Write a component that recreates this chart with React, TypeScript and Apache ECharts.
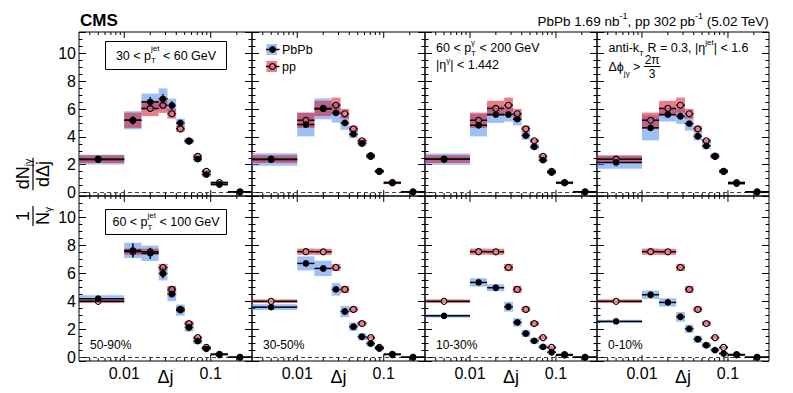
import React, { useEffect, useRef } from 'react';
import * as echarts from 'echarts';

const FONT = '"Liberation Sans", Arial, Helvetica, sans-serif';

// ---------- data ----------
const centralities = ['50-90%', '30-50%', '10-30%', '0-10%'];
const binLow = [0, 0.01, 0.0158, 0.025, 0.0316, 0.0398, 0.05, 0.063, 0.079, 0.1, 0.158];
const binHigh = [0.01, 0.0158, 0.025, 0.0316, 0.0398, 0.05, 0.063, 0.079, 0.1, 0.158, 0.3];
const binCenter = [0.005, 0.0126, 0.02, 0.028, 0.0355, 0.0446, 0.056, 0.0707, 0.089, 0.126, 0.218];

const xTickMajor = [0.01, 0.1];
const xTickMinor = [0.004, 0.005, 0.006, 0.007, 0.008, 0.009, 0.02, 0.03, 0.04, 0.05, 0.06, 0.07, 0.08, 0.09, 0.2];
const yTickLabels = ['0', '2', '4', '6', '8', '10'];

// row 1 : 30 < pT jet < 60 GeV
const ppLow = [2.4, 5.2, 6.05, 6.28, 5.67, 4.58, 3.72, 2.6, 1.52, 0.71, 0.05];
const ppLowSys = [0.28, 0.55, 0.55, 0.55, 0.35, 0.22, 0.15, 0.15, 0.12, 0.1, 0];
const ppLowStat = [0.05, 0.12, 0.1, 0.1, 0.08, 0.07, 0.06, 0.05, 0.04, 0.03, 0.01];

const pbpbLow5090 = [2.37, 5.2, 6.52, 6.74, 6.26, 5.01, 3.69, 2.4, 1.29, 0.58, 0.05];
const pbpbLow5090Sys = [0.35, 0.65, 0.6, 0.75, 0.5, 0.3, 0.2, 0.2, 0.15, 0.12, 0];
const pbpbLow5090Stat = [0.1, 0.3, 0.35, 0.35, 0.3, 0.2, 0.12, 0.1, 0.1, 0.06, 0.02];
const pbpbLow3050 = [2.37, 4.89, 6.02, 5.73, 5.01, 4.2, 3.53, 2.66, 1.53, 0.7, 0.05];
const pbpbLow3050Sys = [0.45, 0.85, 0.75, 0.7, 0.5, 0.3, 0.2, 0.15, 0.12, 0.1, 0];
const pbpbLow3050Stat = [0.08, 0.22, 0.18, 0.18, 0.16, 0.12, 0.1, 0.08, 0.06, 0.04, 0.02];
const pbpbLow1030 = [2.4, 4.84, 5.61, 5.61, 5.28, 4.1, 3.29, 2.33, 1.44, 0.7, 0.05];
const pbpbLow1030Sys = [0.4, 0.8, 0.6, 0.5, 0.45, 0.3, 0.2, 0.15, 0.12, 0.1, 0];
const pbpbLow1030Stat = [0.07, 0.18, 0.14, 0.14, 0.12, 0.1, 0.08, 0.07, 0.05, 0.04, 0.02];
const pbpbLow010 = [2.16, 4.65, 5.61, 5.49, 4.96, 4.05, 3.36, 2.64, 1.53, 0.65, 0.05];
const pbpbLow010Sys = [0.45, 0.9, 0.5, 0.55, 0.5, 0.3, 0.25, 0.2, 0.15, 0.1, 0];
const pbpbLow010Stat = [0.06, 0.16, 0.12, 0.12, 0.1, 0.09, 0.07, 0.06, 0.05, 0.03, 0.02];

// row 2 : 60 < pT jet < 100 GeV
const ppHigh = [4.02, 7.57, 7.56, 6.44, 4.87, 3.44, 2.43, 1.42, 0.72, 0.21, 0.02];
const ppHighSys = [0.12, 0.22, 0.22, 0.25, 0.25, 0.2, 0.18, 0.12, 0.1, 0.05, 0];
const ppHighStat = [0.05, 0.12, 0.1, 0.1, 0.08, 0.07, 0.06, 0.05, 0.04, 0.02, 0.01];

const pbpbHigh5090 = [4.2, 7.66, 7.45, 6.01, 4.53, 3.39, 2.15, 1.17, 0.62, 0.24, 0.02];
const pbpbHigh5090Sys = [0.25, 0.55, 0.55, 0.5, 0.5, 0.4, 0.3, 0.2, 0.12, 0.06, 0];
const pbpbHigh5090Stat = [0.15, 0.5, 0.4, 0.35, 0.25, 0.2, 0.12, 0.1, 0.06, 0.04, 0.02];
const pbpbHigh3050 = [3.6, 6.73, 6.37, 4.87, 3.29, 2.2, 1.48, 1.0, 0.64, 0.24, 0.02];
const pbpbHigh3050Sys = [0.2, 0.5, 0.55, 0.45, 0.4, 0.3, 0.25, 0.2, 0.12, 0.06, 0];
const pbpbHigh3050Stat = [0.1, 0.25, 0.2, 0.15, 0.12, 0.1, 0.08, 0.06, 0.05, 0.03, 0.02];
const pbpbHigh1030 = [2.98, 5.37, 4.99, 3.63, 2.51, 1.72, 1.19, 0.76, 0.38, 0.17, 0.02];
const pbpbHigh1030Sys = [0.12, 0.3, 0.25, 0.35, 0.3, 0.25, 0.2, 0.15, 0.1, 0.08, 0];
const pbpbHigh1030Stat = [0.08, 0.18, 0.15, 0.12, 0.1, 0.08, 0.06, 0.05, 0.04, 0.03, 0.02];
const pbpbHigh010 = [2.58, 4.49, 3.94, 2.91, 2.05, 1.31, 0.88, 0.53, 0.29, 0.19, 0.02];
const pbpbHigh010Sys = [0.12, 0.3, 0.3, 0.35, 0.3, 0.25, 0.2, 0.15, 0.1, 0.08, 0];
const pbpbHigh010Stat = [0.07, 0.15, 0.13, 0.1, 0.09, 0.07, 0.05, 0.04, 0.03, 0.03, 0.02];

const pbpbRows = [
  [
    [pbpbLow5090, pbpbLow5090Sys, pbpbLow5090Stat],
    [pbpbLow3050, pbpbLow3050Sys, pbpbLow3050Stat],
    [pbpbLow1030, pbpbLow1030Sys, pbpbLow1030Stat],
    [pbpbLow010, pbpbLow010Sys, pbpbLow010Stat],
  ],
  [
    [pbpbHigh5090, pbpbHigh5090Sys, pbpbHigh5090Stat],
    [pbpbHigh3050, pbpbHigh3050Sys, pbpbHigh3050Stat],
    [pbpbHigh1030, pbpbHigh1030Sys, pbpbHigh1030Stat],
    [pbpbHigh010, pbpbHigh010Sys, pbpbHigh010Stat],
  ],
];
const ppRows = [
  [ppLow, ppLowSys, ppLowStat],
  [ppHigh, ppHighSys, ppHighStat],
];

// ---------- layout ----------
const COL_LEFT = [79, 252, 425, 597];
const COL_W = [173, 173, 172, 172];
const ROW_TOP = [32, 196];
const ROW_H = [164, 165];
const X_MIN = 0.003;
const X_MAX = 0.3;
const Y_MIN = -0.25;
const Y_MAX = 11.55;

const BLUE = 'rgba(80,140,240,0.55)';
const RED = 'rgba(215,20,40,0.55)';

// ---------- text helpers ----------
let measureCtx: CanvasRenderingContext2D | null = null;
function tw(s: string, size: number, weight = 'normal') {
  if (!measureCtx) measureCtx = document.createElement('canvas').getContext('2d');
  measureCtx!.font = `${weight} ${size}px ${FONT}`;
  return measureCtx!.measureText(s).width;
}
function txt(x: number, y: number, text: string, size: number, align = 'left', weight = 'normal') {
  return {
    type: 'text',
    x,
    y,
    silent: true,
    style: {
      text,
      fontSize: size,
      fontFamily: FONT,
      fontWeight: weight,
      fill: '#000',
      align,
      verticalAlign: 'middle',
      textAlign: align,
      textVerticalAlign: 'middle',
    },
  };
}
type Part = { t: string; s: number; dy?: number; adv?: number };
function textRow(x: number, y: number, parts: Part[], align: 'left' | 'center' | 'right') {
  const ws = parts.map((p) => (p.adv !== undefined ? p.adv : tw(p.t, p.s)));
  const total = ws.reduce((a, b) => a + b, 0);
  let cx = align === 'left' ? x : align === 'right' ? x - total : x - total / 2;
  const out: any[] = [];
  parts.forEach((p, i) => {
    out.push(txt(cx, y + (p.dy || 0), p.t, p.s));
    cx += ws[i];
  });
  return out;
}
function supSub(sup: string, sub: string, s: number, dSup: number, dSub: number): Part[] {
  const w = Math.max(tw(sup, s), tw(sub, s));
  return [
    { t: sup, s, dy: dSup, adv: 0 },
    { t: sub, s, dy: dSub, adv: w },
  ];
}

// ---------- render items ----------
function boxItem(color: string) {
  return (params: any, api: any) => {
    const v = api.value(1);
    const e = api.value(2);
    if (!(e > 0)) return null;
    const lo = Math.max(api.value(3), X_MIN);
    const hi = api.value(4);
    const p1 = api.coord([lo, v + e]);
    const p2 = api.coord([hi, v - e]);
    return {
      type: 'rect',
      shape: { x: p1[0], y: p1[1], width: p2[0] - p1[0], height: p2[1] - p1[1] },
      style: { fill: color },
    };
  };
}
function markerItem(filled: boolean) {
  return (params: any, api: any) => {
    const c = api.value(0);
    const v = api.value(1);
    const s = api.value(2);
    const lo = Math.max(api.value(3), X_MIN);
    const hi = api.value(4);
    const p = api.coord([c, v]);
    const pl = api.coord([lo, v]);
    const ph = api.coord([hi, v]);
    const pt = api.coord([c, v + s]);
    const pb = api.coord([c, v - s]);
    const r = 3.4;
    const ls = { stroke: '#000', lineWidth: 1.5 };
    const ch: any[] = [
      { type: 'line', shape: { x1: pl[0], y1: p[1], x2: p[0] - r, y2: p[1] }, style: ls },
      { type: 'line', shape: { x1: p[0] + r, y1: p[1], x2: ph[0], y2: p[1] }, style: ls },
    ];
    if (p[1] - pt[1] > r) ch.push({ type: 'line', shape: { x1: p[0], y1: pt[1], x2: p[0], y2: p[1] - r }, style: ls });
    if (pb[1] - p[1] > r) ch.push({ type: 'line', shape: { x1: p[0], y1: p[1] + r, x2: p[0], y2: pb[1] }, style: ls });
    ch.push({
      type: 'circle',
      shape: { cx: p[0], cy: p[1], r: filled ? r : r - 0.4 },
      style: filled ? { fill: '#000' } : { fill: 'none', stroke: '#000', lineWidth: 1.1 },
    });
    return { type: 'group', children: ch };
  };
}
function tickItem(params: any, api: any) {
  const cs = params.coordSys;
  const x = api.coord([api.value(0), 0])[0];
  const len = api.value(1) ? 6 : 3;
  const st = { stroke: '#000', lineWidth: 1 };
  const yb = cs.y + cs.height;
  return {
    type: 'group',
    children: [
      { type: 'line', shape: { x1: x, y1: yb, x2: x, y2: yb - len }, style: st },
      { type: 'line', shape: { x1: x, y1: cs.y, x2: x, y2: cs.y + len }, style: st },
    ],
  };
}
function zeroItem(params: any, api: any) {
  const cs = params.coordSys;
  const y = api.coord([api.value(0), api.value(1)])[1];
  return {
    type: 'line',
    shape: { x1: cs.x, y1: y, x2: cs.x + cs.width, y2: y },
    style: { stroke: '#444', lineWidth: 1, lineDash: [4, 3] },
  };
}

function fmtX(v: number) {
  if (Math.abs(v - 0.01) < 1e-9) return '0.01';
  if (Math.abs(v - 0.1) < 1e-9) return '0.1';
  return '';
}
function fmtY(v: number) {
  const i = Math.round(v / 2);
  return Math.abs(v - i * 2) < 1e-6 && i >= 0 && i < yTickLabels.length ? yTickLabels[i] : '';
}

function buildOption() {
  const grids: any[] = [];
  const xAxes: any[] = [];
  const yAxes: any[] = [];
  const series: any[] = [];
  const xTicks = [...xTickMinor.map((v) => [v, 0]), ...xTickMajor.map((v) => [v, 1])];

  for (let r = 0; r < 2; r++) {
    for (let c = 0; c < 4; c++) {
      const g = r * 4 + c;
      grids.push({
        left: COL_LEFT[c],
        top: ROW_TOP[r],
        width: COL_W[c],
        height: ROW_H[r],
        containLabel: false,
        outerBoundsMode: 'none',
        show: true,
        borderColor: '#000',
        borderWidth: 1,
        backgroundColor: 'rgba(0,0,0,0)',
      });
      xAxes.push({
        type: 'log',
        logBase: 10,
        gridIndex: g,
        min: X_MIN,
        max: X_MAX,
        axisLine: { show: false },
        axisTick: { show: false },
        minorTick: { show: false },
        splitLine: { show: false },
        axisLabel: {
          show: r === 1,
          fontSize: 16,
          fontFamily: FONT,
          color: '#000',
          margin: 4,
          showMinLabel: false,
          showMaxLabel: false,
          formatter: fmtX,
        },
        name: r === 1 ? 'Δj' : '',
        nameLocation: 'middle',
        nameGap: 7,
        nameMoveOverlap: false,
        nameTextStyle: { fontSize: 18, fontFamily: FONT, color: '#000' },
      });
      const yBase = {
        type: 'value',
        gridIndex: g,
        min: Y_MIN,
        max: Y_MAX,
        splitNumber: 5,
        axisLine: { show: false },
        splitLine: { show: false },
        axisTick: { show: true, inside: true, length: 7, lineStyle: { color: '#000', width: 1 } },
        minorTick: { show: true, splitNumber: 4, length: 3.5, lineStyle: { color: '#000', width: 1 } },
      };
      yAxes.push({
        ...yBase,
        position: 'left',
        axisLabel: {
          show: c === 0,
          fontSize: 16,
          fontFamily: FONT,
          color: '#000',
          margin: 3,
          showMinLabel: false,
          showMaxLabel: false,
          formatter: fmtY,
        },
      });
      yAxes.push({ ...yBase, position: 'right', axisLabel: { show: false } });

      const common = { xAxisIndex: g, yAxisIndex: 2 * g, coordinateSystem: 'cartesian2d', silent: true };
      series.push({ ...common, type: 'custom', data: xTicks, renderItem: tickItem });
      series.push({ ...common, type: 'custom', data: [[X_MIN, 0]], renderItem: zeroItem });

      const [pv, ps, pst] = pbpbRows[r][c];
      const [qv, qs, qst] = ppRows[r];
      const pbData = binCenter.map((x, i) => [x, pv[i], ps[i], binLow[i], binHigh[i]]);
      const pbStat = binCenter.map((x, i) => [x, pv[i], pst[i], binLow[i], binHigh[i]]);
      const ppData = binCenter.map((x, i) => [x, qv[i], qs[i], binLow[i], binHigh[i]]);
      const ppStat = binCenter.map((x, i) => [x, qv[i], qst[i], binLow[i], binHigh[i]]);
      series.push({ ...common, type: 'custom', name: 'PbPb sys', data: pbData, renderItem: boxItem(BLUE) });
      series.push({ ...common, type: 'custom', name: 'pp sys', data: ppData, renderItem: boxItem(RED) });
      series.push({ ...common, type: 'custom', name: 'pp', data: ppStat, renderItem: markerItem(false) });
      series.push({ ...common, type: 'custom', name: 'PbPb', data: pbStat, renderItem: markerItem(true) });
    }
  }

  // ---------- graphics ----------
  const gfx: any[] = [];
  gfx.push(txt(80, 20, 'CMS', 17, 'left', 'bold'));
  gfx.push(
    ...textRow(
      769,
      21,
      [
        { t: 'PbPb 1.69 nb', s: 13.5 },
        { t: '-1', s: 9, dy: -5 },
        { t: ', pp 302 pb', s: 13.5 },
        { t: '-1', s: 9, dy: -5 },
        { t: ' (5.02 TeV)', s: 13.5 },
      ],
      'right'
    )
  );
  // pT boxes
  const boxes = [
    { y: 41, h: 28, lo: '30', hi: '60' },
    { y: 209, h: 25, lo: '60', hi: '100' },
  ];
  boxes.forEach((b) => {
    gfx.push({
      type: 'rect',
      shape: { x: 105.5, y: b.y + 0.5, width: 121, height: b.h },
      style: { fill: '#fff', stroke: '#000', lineWidth: 1 },
      silent: true,
    });
    gfx.push(
      ...textRow(
        166,
        b.y + 0.5 + b.h / 2,
        [
          { t: `${b.lo} < p`, s: 12.5 },
          ...supSub('jet', 'T', 8, -7, 5),
          { t: ` < ${b.hi} GeV`, s: 12.5 },
        ],
        'center'
      )
    );
  });
  // legend
  const legY = [49.5, 66.5];
  [0, 1].forEach((k) => {
    const y = legY[k];
    gfx.push({
      type: 'rect',
      shape: { x: 266.5, y: y - 5.5, width: 10.5, height: 11 },
      style: { fill: k === 0 ? BLUE : RED },
      silent: true,
    });
    gfx.push({
      type: 'line',
      shape: { x1: 266, y1: y, x2: 279.5, y2: y },
      style: { stroke: '#000', lineWidth: 1.5 },
      silent: true,
    });
    gfx.push({
      type: 'circle',
      shape: { cx: 272.5, cy: y, r: k === 0 ? 3.4 : 3 },
      style: k === 0 ? { fill: '#000' } : { fill: '#e8707c', stroke: '#000', lineWidth: 1.1 },
      silent: true,
    });
    gfx.push(txt(282, y, k === 0 ? 'PbPb' : 'pp', 12.5));
  });
  // panel 3 text
  gfx.push(
    ...textRow(
      436,
      47.5,
      [{ t: '60 < p', s: 12.5 }, ...supSub('γ', 'T', 8, -5, 6), { t: ' < 200 GeV', s: 12.5 }],
      'left'
    )
  );
  gfx.push(
    ...textRow(436, 65, [{ t: '|η', s: 12.5 }, { t: 'γ', s: 8, dy: -5 }, { t: '| < 1.442', s: 12.5 }], 'left')
  );
  // panel 4 text
  gfx.push(
    ...textRow(
      608.5,
      47.5,
      [
        { t: 'anti-k', s: 12.5 },
        { t: 'T', s: 8, dy: 6 },
        { t: ' R = 0.3, |η', s: 12.5 },
        { t: 'jet', s: 8, dy: -5 },
        { t: '| < 1.6', s: 12.5 },
      ],
      'left'
    )
  );
  {
    const row = textRow(608.5, 67, [{ t: 'Δϕ', s: 12.5 }, { t: 'jγ', s: 8, dy: 6 }, { t: ' > ', s: 12.5 }], 'left');
    gfx.push(...row);
    const w = tw('Δϕ', 12.5) + tw('jγ', 8) + tw(' > ', 12.5);
    const fx = 608.5 + w;
    const fw = tw('2π', 12.5) + 1;
    gfx.push(txt(fx + fw / 2, 60, '2π', 12, 'center'));
    gfx.push({
      type: 'line',
      shape: { x1: fx, y1: 66.5, x2: fx + fw, y2: 66.5 },
      style: { stroke: '#000', lineWidth: 1 },
      silent: true,
    });
    gfx.push(txt(fx + fw / 2, 73.5, '3', 12, 'center'));
  }
  // centralities
  centralities.forEach((t, c) => gfx.push(txt(COL_LEFT[c] + 11, 345, t, 12)));

  // y axis title (rotated)
  const yt: any[] = [];
  const TS = 18;
  const SS = 10.5;
  const upC = 22; // local x of upper fraction center (screen y = 196 - lx)
  const loC = -20;
  const num = [{ t: 'dN', s: TS }, { t: 'jγ', s: SS, dy: 5 }];
  const numW = tw('dN', TS) + tw('jγ', SS);
  const denW = tw('dΔj', TS);
  const fw1 = Math.max(numW, denW) + 2;
  yt.push(...textRow(upC, -10, num, 'center'));
  yt.push(...textRow(upC, 10, [{ t: 'dΔj', s: TS }], 'center'));
  yt.push({
    type: 'line',
    shape: { x1: upC - fw1 / 2, y1: 0, x2: upC + fw1 / 2, y2: 0 },
    style: { stroke: '#000', lineWidth: 1.2 },
  });
  const nW = tw('N', TS) + tw('γ', SS);
  yt.push(...textRow(loC, -10, [{ t: '1', s: TS }], 'center'));
  yt.push(...textRow(loC, 10, [{ t: 'N', s: TS }, { t: 'γ', s: SS, dy: 5 }], 'center'));
  yt.push({
    type: 'line',
    shape: { x1: loC - nW / 2 - 1, y1: 0, x2: loC + nW / 2 + 1, y2: 0 },
    style: { stroke: '#000', lineWidth: 1.2 },
  });
  gfx.push({ type: 'group', x: 33, y: 196, rotation: Math.PI / 2, silent: true, children: yt });

  return {
    animation: false,
    backgroundColor: '#fff',
    textStyle: { fontFamily: FONT },
    grid: grids,
    xAxis: xAxes,
    yAxis: yAxes,
    series,
    graphic: { elements: gfx },
  };
}

export default function App() {
  const ref = useRef<HTMLDivElement>(null);
  useEffect(() => {
    document.body.style.margin = '0';
    const chart = echarts.init(ref.current!, null, { renderer: 'svg' });
    chart.setOption(buildOption() as any);
    return () => chart.dispose();
  }, []);
  return <div ref={ref} style={{ width: 793, height: 393 }} />;
}
